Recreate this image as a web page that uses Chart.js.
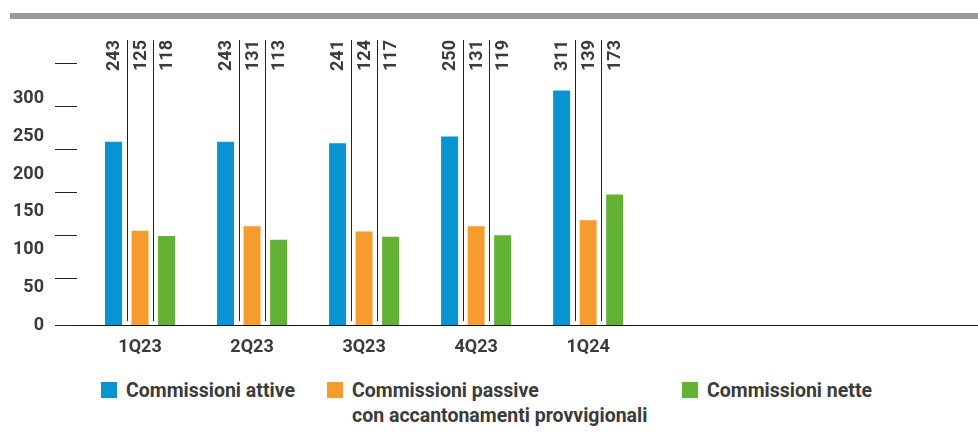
<!DOCTYPE html>
<html>
<head>
<meta charset="utf-8">
<script src="https://cdn.jsdelivr.net/npm/chart.js@4"></script>
<style>
  body { margin: 0; background: #fff; font-family: Roboto, sans-serif; }
  #wrap { position: relative; width: 978px; height: 444px; }
  #rule { position: absolute; left: 10px; top: 13px; width: 968px; height: 6px; background: #9b9b9b; }
  #chartBox { position: absolute; left: 0; top: 0; width: 978px; height: 370px; }
  #legend { position: absolute; top: 378px; left: 0; width: 978px; }
  .item { position: absolute; top: 0; font-weight: bold; font-size: 19.5px; line-height: 25px; color: #3b3b3b; }
  .item span.box { position: absolute; left: 0; top: 4px; width: 16px; height: 16px; }
  .item div.txt { margin-left: 25px; white-space: nowrap; }
</style>
</head>
<body>
<div id="wrap">
  <div id="rule"></div>
  <div id="chartBox"><canvas id="myChart"></canvas></div>
  <div id="legend"></div>
</div>
<script>
// quarterly fee figures
let quarters = ['1Q23', '2Q23', '3Q23', '4Q23', '1Q24'];
let attive = [243, 243, 241, 250, 311];
let passive = [125, 131, 124, 131, 139];
let nette = [118, 113, 117, 119, 173];
let yTicks = [0, 50, 100, 150, 200, 250, 300];

let seriesNames = ['Commissioni attive', 'Commissioni passive\ncon accantonamenti provvigionali', 'Commissioni nette'];
let seriesColors = ['#0894d2', '#f59c2d', '#62b236'];
let legendLeft = [101, 327, 682];

const textColor = '#3b3b3b';
const boldFont = { family: 'Roboto', size: 18, weight: 'bold' };

function points(values) {
  return values.map(function(v, i) { return { x: i, y: v }; });
}

// rotated value labels above each bar and thin dividers between bars
const valueLabels = {
  id: 'valueLabels',
  afterDatasetsDraw(chart) {
    const ctx = chart.ctx;
    const area = chart.chartArea;
    const zero = chart.scales.y.getPixelForValue(0);
    const metas = chart.data.datasets.map(function(d, i) { return chart.getDatasetMeta(i); });
    ctx.save();
    ctx.strokeStyle = '#222';
    ctx.lineWidth = 1;
    for (let i = 0; i < quarters.length; i++) {
      for (let d = 0; d < metas.length - 1; d++) {
        let x = Math.round((metas[d].data[i].x + metas[d + 1].data[i].x) / 2) + 0.5;
        ctx.beginPath();
        ctx.moveTo(x, area.top);
        ctx.lineTo(x, zero - 4);
        ctx.stroke();
      }
    }
    ctx.fillStyle = textColor;
    ctx.font = 'bold 18px Roboto';
    ctx.textAlign = 'right';
    ctx.textBaseline = 'middle';
    metas.forEach(function(meta, d) {
      meta.data.forEach(function(bar, i) {
        ctx.save();
        ctx.translate(bar.x + 1, area.top);
        ctx.rotate(-Math.PI / 2);
        ctx.fillText(String(chart.data.datasets[d].data[i].y), 0, 0);
        ctx.restore();
      });
    });
    ctx.restore();
  }
};

const config = {
  type: 'bar',
  data: {
    datasets: [
      { label: seriesNames[0], data: points(attive), backgroundColor: seriesColors[0] },
      { label: seriesNames[1], data: points(passive), backgroundColor: seriesColors[1] },
      { label: seriesNames[2], data: points(nette), backgroundColor: seriesColors[2] }
    ]
  },
  options: {
    responsive: true,
    maintainAspectRatio: false,
    animation: false,
    categoryPercentage: 0.71,
    barPercentage: 0.64,
    layout: { padding: { top: 40, left: 10, right: 0, bottom: 0 } },
    plugins: { legend: { display: false }, tooltip: { enabled: false } },
    scales: {
      x: {
        type: 'linear',
        offset: false,
        min: -0.5625,
        max: 7.48,
        grid: { display: false, drawTicks: false, offset: false },
        border: { display: true, color: '#111', width: 1 },
        afterBuildTicks: function(axis) {
          axis.ticks = quarters.map(function(q, i) { return { value: i }; });
        },
        afterFit: function(axis) { axis.height = 45; },
        ticks: {
          padding: 12,
          color: textColor,
          font: boldFont,
          callback: function(value) { return quarters[value]; }
        }
      },
      y: {
        position: 'left',
        weight: 1,
        min: 0,
        max: 378,
        grid: { display: false, drawTicks: false },
        border: { display: false },
        afterBuildTicks: function(axis) {
          axis.ticks = yTicks.map(function(v) { return { value: v }; });
        },
        afterFit: function(axis) { axis.width = 45; },
        ticks: { padding: 11, color: textColor, font: boldFont }
      },
      // short marker dashes beside the value axis
      marks: {
        position: 'left',
        weight: 0,
        min: -0.09,
        max: 6.54,
        grid: { display: true, drawOnChartArea: false, drawTicks: true, tickLength: 22, color: '#222', lineWidth: 1 },
        border: { display: false },
        afterBuildTicks: function(axis) {
          axis.ticks = [-0.09, 1, 2, 3, 4, 5, 6].map(function(v) { return { value: v }; });
        },
        afterFit: function(axis) { axis.width = 22; },
        ticks: { display: false }
      }
    }
  },
  plugins: [valueLabels]
};

const myChart = new Chart(document.getElementById('myChart'), config);

// legend under the chart
let legend = document.getElementById('legend');
seriesNames.forEach(function(name, i) {
  let item = document.createElement('div');
  item.className = 'item';
  item.style.left = legendLeft[i] + 'px';
  let box = document.createElement('span');
  box.className = 'box';
  box.style.background = seriesColors[i];
  item.appendChild(box);
  name.split('\n').forEach(function(line) {
    let t = document.createElement('div');
    t.className = 'txt';
    t.textContent = line;
    item.appendChild(t);
  });
  legend.appendChild(item);
});
</script>
</body>
</html>
